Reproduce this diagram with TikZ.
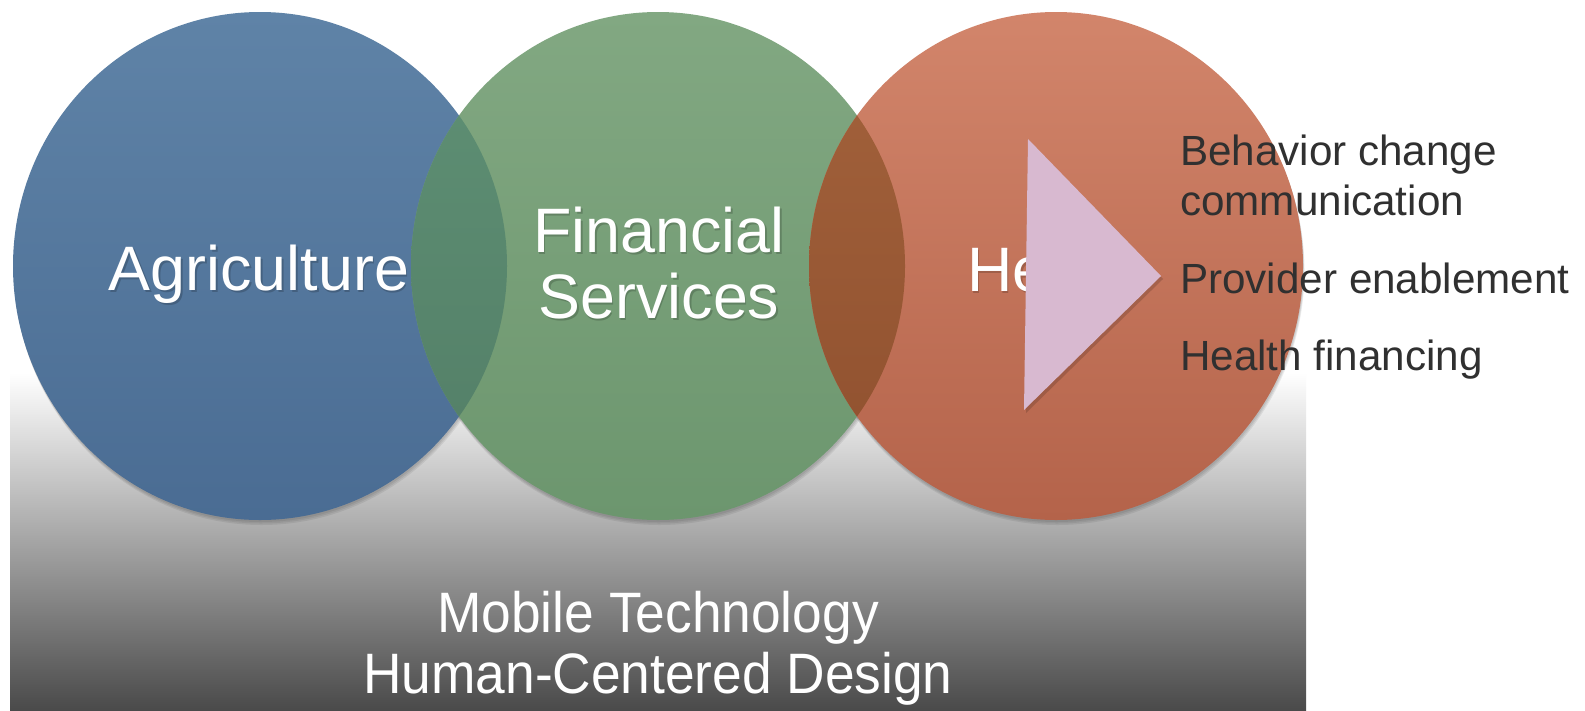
\documentclass[tikz,border=0pt]{standalone}
\usepackage{fontspec}
\setmainfont{Liberation Sans}
\newfontfamily\narrowfont[FakeStretch=0.935]{Liberation Sans}
\definecolor{blueT}{HTML}{5F83A7}
\definecolor{blueB}{HTML}{4A6C93}
\definecolor{greenT}{HTML}{82A882}
\definecolor{greenB}{HTML}{6C966E}
\definecolor{orangeT}{HTML}{D2856B}
\definecolor{orangeB}{HTML}{B4634A}
\definecolor{lensBGT}{HTML}{5F9175}
\definecolor{lensBGB}{HTML}{527D66}
\definecolor{lensGOT}{HTML}{A4633C}
\definecolor{lensGOB}{HTML}{8E4F2E}
\definecolor{tri}{HTML}{D8B9D0}
\definecolor{txt}{HTML}{303030}
\definecolor{grayB}{HTML}{4A4A4A}
\tikzset{
  bigtxt/.style={inner sep=0pt, text=white, font=\fontsize{62.8}{66}\selectfont},
  bigshadow/.style={inner sep=0pt, text=black, text opacity=0.18, font=\fontsize{62.8}{66}\selectfont},
  bottxt/.style={inner sep=0pt, text=white, font=\narrowfont\fontsize{57}{61}\selectfont},
  sidetxt/.style={inner sep=0pt, text=txt, font=\fontsize{42.2}{48}\selectfont, anchor=base west},
  circshadow/.style={fill=black, opacity=0.07},
}
\begin{document}
\begin{tikzpicture}[x=1pt,y=-1pt]
\useasboundingbox (0,0) rectangle (1585,710);
\fill[white] (0,0) rectangle (1585,710);
% gray band
\shade[top color=white, bottom color=grayB] (10,373) rectangle (1306,710);
% circle shadows
\foreach \cx in {260,658,1056}{
  \foreach \d in {2,3.5,5}{
    \fill[circshadow] (\cx+\d*0.3,266+\d) ellipse [x radius=247pt, y radius=254pt];
  }
}
% circles
\shade[top color=blueT, bottom color=blueB] (260,266) ellipse [x radius=247pt, y radius=254pt];
\shade[top color=greenT, bottom color=greenB] (658,266) ellipse [x radius=247pt, y radius=254pt];
\shade[top color=orangeT, bottom color=orangeB] (1056,266) ellipse [x radius=247pt, y radius=254pt];
% lenses
\begin{scope}
  \clip (260,266) ellipse [x radius=247pt, y radius=254pt];
  \shade[top color=lensBGT, bottom color=lensBGB] (658,266) ellipse [x radius=247pt, y radius=254pt];
\end{scope}
\begin{scope}
  \clip (658,266) ellipse [x radius=247pt, y radius=254pt];
  \shade[top color=lensGOT, bottom color=lensGOB] (1056,266) ellipse [x radius=247pt, y radius=254pt];
\end{scope}
% circle labels
\node[bigshadow, anchor=base] (agris) at (260.5,292) {Agriculture};
\node[bigtxt, anchor=base] (agri) at (259,290) {Agriculture};
\node[bigshadow, anchor=base] (fin1s) at (660.5,254) {Financial};
\node[bigtxt, anchor=base] (fin1) at (659,252) {Financial};
\node[bigshadow, anchor=base] (fin2s) at (660.5,320) {Services};
\node[bigtxt, anchor=base] (fin2) at (659,318) {Services};
\begin{scope}
  \clip (900,200) rectangle (1030,330);
  \node[bigshadow, anchor=base west] (heals) at (968.5,293) {Health};
  \node[bigtxt, anchor=base west] (heal) at (967,291) {Health};
\end{scope}
% triangle
\coordinate (tA) at (1028,139);
\coordinate (tB) at (1161,276);
\coordinate (tC) at (1024,410);
\fill[black, opacity=0.15] ([shift={(2,3)}]tA) -- ([shift={(2,3)}]tB) -- ([shift={(2,3)}]tC) -- cycle;
\fill[tri] (tA) -- (tB) -- (tC) -- cycle;
% side list
\node[sidetxt] (s1) at (1180,165) {Behavior change};
\node[sidetxt] (s2) at (1180,215) {communication};
\node[sidetxt] (s3) at (1180,293) {Provider enablement};
\node[sidetxt] (s4) at (1180,370) {Health financing};
% bottom labels
\node[bottxt, anchor=base] (m1) at (658,632) {Mobile Technology};
\node[bottxt, anchor=base] (m2) at (658,693) {Human-Centered Design};
\end{tikzpicture}
\end{document}
